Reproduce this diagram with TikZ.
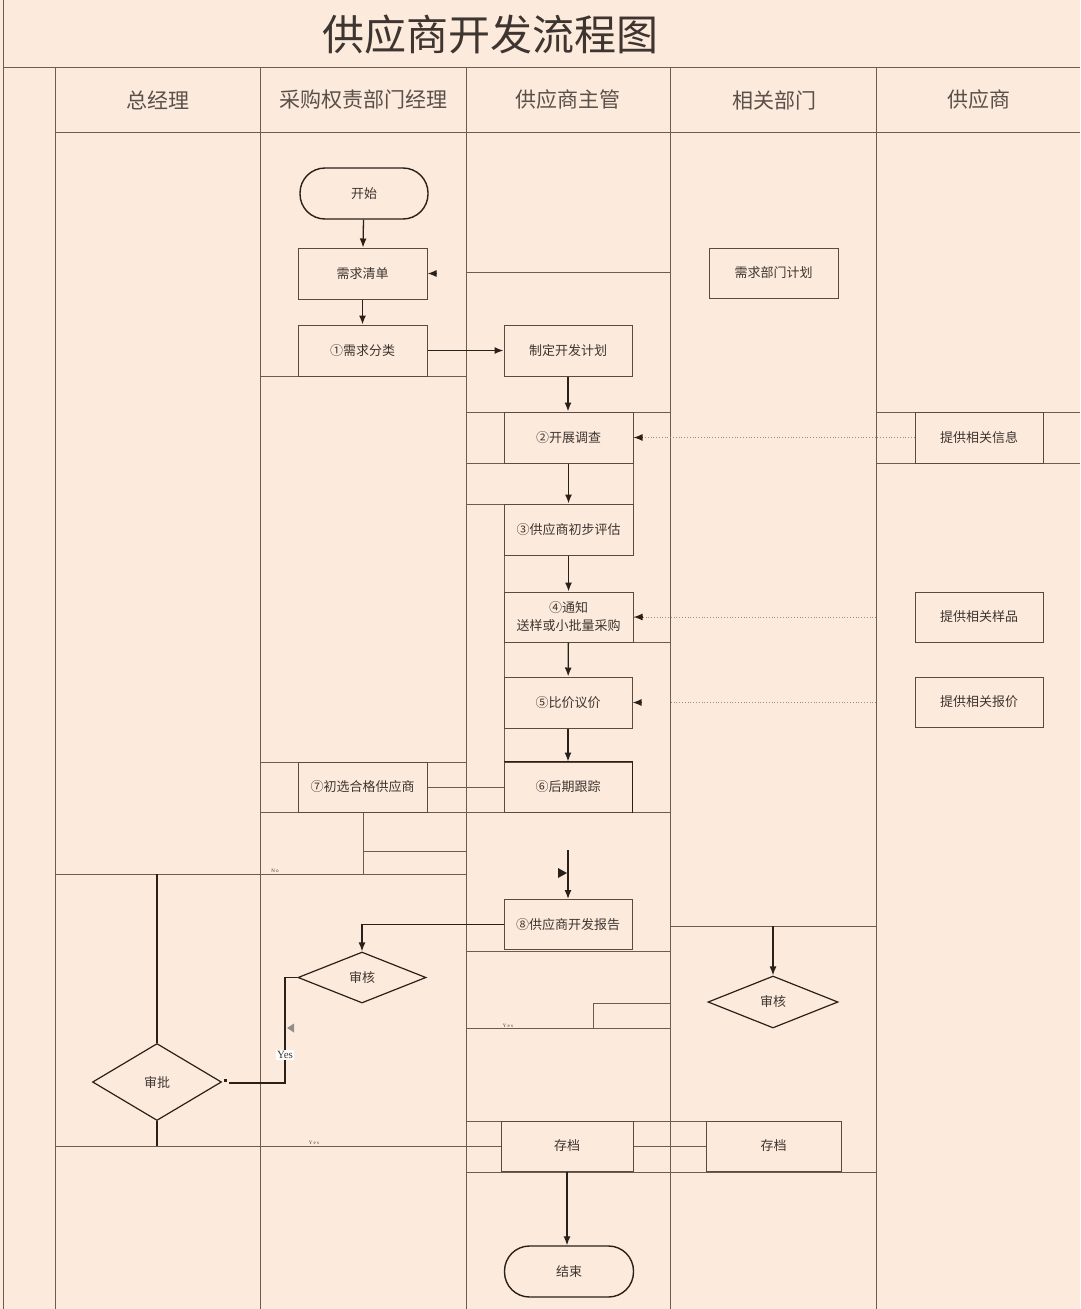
\documentclass[tikz,border=0pt]{standalone}
\usepackage{fontspec}
\setmainfont{Noto Sans CJK SC}
\newfontfamily\latinfont{Liberation Serif}
\usetikzlibrary{shapes.geometric,arrows.meta}
\definecolor{bgc}{HTML}{FCEBDD}
\definecolor{gridc}{HTML}{6E5C50}
\definecolor{boxc}{HTML}{5C4A3F}
\definecolor{arrc}{HTML}{2A201A}
\definecolor{txtc}{HTML}{3E3530}
\definecolor{headc}{HTML}{5A504A}
\tikzset{
  gridline/.style={draw=gridc, line width=0.8pt},
  stepbox/.style={draw=boxc, line width=1pt, minimum width=129pt, minimum height=51pt, inner sep=0pt, text=txtc, font=\fontsize{13}{16}\selectfont, align=center},
  termbox/.style={stepbox, rounded corners=25pt, line width=1.4pt, draw=arrc},
  decbox/.style={draw=arrc, line width=1.2pt, diamond, inner sep=0pt, text=txtc, font=\fontsize{13}{16}\selectfont},
  flow/.style={draw=arrc, line width=1.3pt, -{Latex[length=9pt,width=7pt]}},
  conn/.style={draw=arrc, line width=1.2pt},
  dotline/.style={draw=gridc!70, line width=0.8pt, dotted},
  headtxt/.style={text=headc, font=\fontsize{21}{24}\selectfont},
  tiny/.style={text=txtc, font=\latinfont\fontsize{5}{6}\selectfont}
}
\begin{document}
\begin{tikzpicture}[x=1pt,y=-1pt]
\fill[bgc] (0,0) rectangle (1080,1309);
\useasboundingbox (0,0) rectangle (1080,1309);

% ---- grid ----
\draw[gridline] (3,0) -- (3,1309);
\draw[gridline] (3,67) -- (1080,67);
\draw[gridline] (55,67) -- (55,1309);
\foreach \x in {260,466,670,876} \draw[gridline] (\x,67) -- (\x,1309);
\draw[gridline] (55,132) -- (1080,132);
\draw[gridline] (466,272) -- (670,272);
\draw[gridline] (260,376) -- (466,376);
\draw[gridline] (466,412) -- (670,412);
\draw[gridline] (466,463) -- (633,463);
\draw[gridline] (633,463) -- (633,504);
\draw[gridline] (466,504) -- (633,504);
\draw[gridline] (504,504) -- (504,812);
\draw[gridline] (633,642) -- (670,642);
\draw[gridline] (260,762) -- (466,762);
\draw[gridline] (260,812) -- (670,812);
\draw[gridline] (363,812) -- (363,874);
\draw[gridline] (363,851) -- (466,851);
\draw[gridline] (55,874) -- (466,874);
\draw[gridline] (466,951) -- (670,951);
\draw[gridline] (670,926) -- (876,926);
\draw[gridline] (593,1028) -- (593,1003) -- (670,1003);
\draw[gridline] (466,1028) -- (670,1028);
\draw[gridline] (466,1121) -- (841,1121);
\draw[gridline] (466,1172) -- (876,1172);
\draw[gridline] (876,412) -- (1080,412);
\draw[gridline] (876,463) -- (1080,463);

% ---- title and headers ----
\node[text=txtc, font=\fontsize{42}{46}\selectfont] (title) at (490,35) {供应商开发流程图};
\node[headtxt] (h1) at (158,100) {总经理};
\node[headtxt] (h2) at (363,100) {采购权责部门经理};
\node[headtxt] (h3) at (568,100) {供应商主管};
\node[headtxt] (h4) at (774,100) {相关部门};
\node[headtxt] (h5) at (979,100) {供应商};

% ---- nodes ----
\node[termbox, minimum width=128pt] (start) at (364,193.5) {开始};
\node[stepbox] (qd) at (362.5,273.5) {需求清单};
\node[stepbox] (fl) at (362.5,350.5) {①需求分类};
\node[stepbox, minimum width=128pt] (jh) at (568,350.5) {制定开发计划};
\node[stepbox] (dc) at (568.5,437.5) {②开展调查};
\node[stepbox] (pg) at (568.5,529.5) {③供应商初步评估};
\node[stepbox, minimum height=50pt, font=\fontsize{13}{18}\selectfont] (tz) at (568.5,617) {④通知\\送样或小批量采购};
\node[stepbox, minimum width=128pt] (bj) at (568,702.5) {⑤比价议价};
\node[stepbox, minimum width=128pt, minimum height=50pt] (gz) at (568,787) {⑥后期跟踪};
\node[stepbox, minimum height=50pt] (cx) at (362.5,787) {⑦初选合格供应商};
\node[stepbox, minimum width=128pt, minimum height=50pt] (bg) at (568,924.5) {⑧供应商开发报告};
\node[decbox, minimum width=128pt, minimum height=51pt] (sh1) at (362,977.5) {审核};
\node[decbox, minimum width=130pt, minimum height=52pt] (sh2) at (773,1002) {审核};
\node[decbox, minimum width=129pt, minimum height=77pt] (sp) at (157,1082) {审批};
\node[stepbox, minimum width=132pt, minimum height=50pt] (cd1) at (567,1146) {存档};
\node[stepbox, minimum width=135pt, minimum height=50pt] (cd2) at (773.5,1146) {存档};
\node[termbox] (end) at (569,1271.5) {结束};
\node[stepbox, minimum height=50pt] (xq) at (773.5,273) {需求部门计划};
\node[stepbox, minimum width=128pt] (xx) at (979,437.5) {提供相关信息};
\node[stepbox, minimum width=128pt, minimum height=50pt] (yp) at (979,617) {提供相关样品};
\node[stepbox, minimum width=128pt, minimum height=50pt] (bjj) at (979,702) {提供相关报价};

% thicker edges of 后期跟踪
\draw[draw=arrc, line width=1.6pt] (gz.north west) -- (gz.north east) -- (gz.south east);

% ---- coordinates ----
\coordinate (pq) at (437,273.5);
\coordinate (p4) at (876,617);
\coordinate (p5a) at (876,702.5);
\coordinate (p5b) at (670,702.5);
\coordinate (p5c) at (642,702.5);
\coordinate (p8) at (568,850);
\coordinate (c926) at (773,926);
\coordinate (y1) at (285,977.5);
\coordinate (y2) at (285,1083);
\coordinate (y3) at (229,1083);
\coordinate (l874) at (157,874);
\coordinate (l1146) at (157,1146);
\coordinate (y0) at (55,1146);

% ---- connectors ----
\draw[flow] (start) -- (qd);
\draw[flow] (qd) -- (fl);
\draw[flow] (fl) -- (jh);
\draw[flow] (jh.south) -- (jh.south |- dc.north);
\draw[flow] (dc) -- (pg);
\draw[flow] (pg) -- (tz);
\draw[flow] (tz) -- (bj);
\draw[flow] (bj) -- (gz);
\draw[gridline] (gz.west) -- (cx.east);
\draw[flow] (pq) -- (qd.east);
\draw[dotline] (xx.west) -- (dc.east);
\draw[flow] ([xshift=9pt]dc.east) -- (dc.east);
\draw[dotline] (p4) -- (tz.east);
\draw[flow] ([xshift=9pt]tz.east) -- (tz.east);
\draw[dotline] (p5a) -- (p5b);
\draw[flow] (p5c) -- (bj.east);
\draw[flow] (p8) -- (bg.north);
\fill[arrc] (558,868) -- (567,873) -- (558,878) -- cycle;
\draw[flow] (bg.west) -| (sh1.north);
\draw[flow] (c926) -- (sh2.north);
\draw[conn] (sh1.west) -- (y1) -- (y2) -- (y3);
\fill[arrc] (224,1079) rectangle (227,1082);
\fill[gray!80!black, opacity=0.7] (287,1028) -- (294,1023.5) -- (294,1032.5) -- cycle;
\node[fill=white, inner sep=1pt, text=txtc, font=\latinfont\fontsize{11}{12}\selectfont] (yeslbl) at (285,1055) {Yes};
\draw[conn] (l874) -- (sp.north);
\draw[conn] (sp.south) -- (l1146);
\draw[gridline] (y0) -- (cd1.west);
\draw[gridline] (cd1.east) -- (cd2.west);
\draw[flow] (cd1.south) -- (cd1.south |- end.north);

% ---- small labels ----
\node[tiny] (no) at (275,871) {N o};
\node[tiny] (yes1) at (314,1143) {Y e s};
\node[tiny] (yes2) at (508,1025.5) {Y e s};
\end{tikzpicture}
\end{document}
